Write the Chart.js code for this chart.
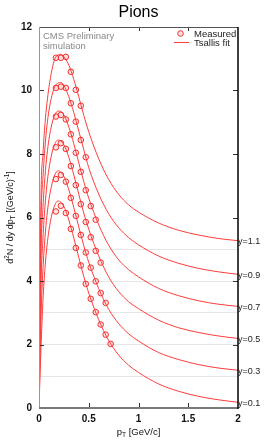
<!DOCTYPE html>
<html>
<head>
<meta charset="utf-8">
<script src="https://cdn.jsdelivr.net/npm/chart.js@4.4.1/dist/chart.umd.min.js"></script>
<style>
  html, body { margin:0; padding:0; background:#fff; }
  #wrap { width:266px; height:446px; }
</style>
</head>
<body>
<div id="wrap"><canvas id="c" width="266" height="446"></canvas></div>
<script>
const FONT = "'Liberation Sans', Arial, sans-serif";
const ROJO = '#ff3b3b';

// curvas del ajuste Tsallis, desplazadas por rapidez
const PT_FIT = [0, 0.02, 0.04, 0.06, 0.08, 0.10, 0.13, 0.16, 0.19, 0.22, 0.26, 0.30, 0.35, 0.40, 0.45, 0.50, 0.60, 0.70, 0.80, 0.90, 1.00, 1.20, 1.40, 1.60, 1.80, 2.00];
const FIT_Y01 = [0, 1.9, 3.4, 4.4, 5.1, 5.6, 6.1, 6.4, 6.52, 6.48, 6.28, 5.92, 5.35, 4.74, 4.14, 3.62, 2.78, 2.13, 1.67, 1.35, 1.12, 0.76, 0.53, 0.37, 0.26, 0.18];
const FIT_Y03 = [0, 2.88, 4.37, 5.37, 6.06, 6.56, 7.05, 7.35, 7.47, 7.43, 7.23, 6.87, 6.31, 5.70, 5.11, 4.59, 3.76, 3.11, 2.66, 2.34, 2.11, 1.75, 1.53, 1.37, 1.26, 1.19];
const FIT_Y05 = [0, 3.88, 5.36, 6.35, 7.04, 7.53, 8.03, 8.32, 8.44, 8.41, 8.23, 7.89, 7.34, 6.73, 6.14, 5.63, 4.79, 4.13, 3.67, 3.35, 3.13, 2.77, 2.53, 2.38, 2.27, 2.19];
const FIT_Y07 = [0, 4.85, 6.32, 7.29, 7.97, 8.46, 8.95, 9.24, 9.35, 9.34, 9.17, 8.85, 8.32, 7.72, 7.13, 6.61, 5.77, 5.13, 4.67, 4.36, 4.13, 3.77, 3.54, 3.38, 3.27, 3.20];
const FIT_Y09 = [0, 5.82, 7.26, 8.22, 8.89, 9.37, 9.84, 10.13, 10.23, 10.25, 10.10, 9.80, 9.30, 8.72, 8.14, 7.57, 6.74, 6.12, 5.68, 5.37, 5.14, 4.79, 4.56, 4.40, 4.29, 4.21];
const FIT_Y11 = [0, 6.6, 8.0, 8.95, 9.6, 10.1, 10.65, 11.0, 11.12, 11.14, 11.02, 10.80, 10.35, 9.80, 9.22, 8.70, 7.85, 7.20, 6.73, 6.40, 6.17, 5.83, 5.60, 5.45, 5.34, 5.27];

// puntos medidos (a mayor rapidez, menos puntos en pT)
const PT_MED = [0.17, 0.22, 0.27, 0.32, 0.37, 0.42, 0.47, 0.52, 0.57, 0.62, 0.67, 0.72];
const MED_Y01 = [6.19, 6.37, 6.14, 5.64, 5.04, 4.49, 3.91, 3.44, 3.02, 2.63, 2.31, 2.02];
const MED_Y03 = [7.21, 7.34, 7.13, 6.62, 6.05, 5.45, 4.90, 4.42, 3.99, 3.62, 3.31];
const MED_Y05 = [8.21, 8.34, 8.16, 7.62, 7.02, 6.42, 5.86, 5.38, 4.95, 4.58];
const MED_Y07 = [9.18, 9.23, 9.09, 8.62, 8.04, 7.44, 6.86, 6.36, 5.93];
const MED_Y09 = [10.08, 10.12, 10.08, 9.60, 9.02, 8.44, 7.90];
const MED_Y11 = [11.03, 11.03, 11.06, 10.59, 10.02, 9.52];

const RAPIDEZ = ['y=0.1', 'y=0.3', 'y=0.5', 'y=0.7', 'y=0.9', 'y=1.1'];
const FITS = [FIT_Y01, FIT_Y03, FIT_Y05, FIT_Y07, FIT_Y09, FIT_Y11];
const MEDS = [MED_Y01, MED_Y03, MED_Y05, MED_Y07, MED_Y09, MED_Y11];

const datasets = [];
FITS.forEach((arr, i) => {
  datasets.push({
    label: RAPIDEZ[i], tipo: 'fit',
    data: PT_FIT.map((x, j) => ({x: x, y: arr[j]})),
    showLine: true, borderColor: ROJO, borderWidth: 1, pointRadius: 0,
    cubicInterpolationMode: 'monotone', fill: false, order: 2
  });
});
MEDS.forEach((arr, i) => {
  datasets.push({
    label: 'med ' + RAPIDEZ[i], tipo: 'med',
    data: arr.map((v, j) => ({x: PT_MED[j], y: v})),
    showLine: false, pointRadius: 2.8, pointBorderWidth: 1,
    pointBorderColor: '#f03030', pointBackgroundColor: 'rgba(255,80,80,0.18)', order: 1
  });
});

// texto con sub/superindices: [texto, 0 normal | 1 sup | -1 sub]
function richText(ctx, parts, size, align) {
  let w = 0;
  parts.forEach(p => { ctx.font = (p[1] ? size * 0.7 : size) + 'px ' + FONT; w += ctx.measureText(p[0]).width; });
  let x = align === 'center' ? -w / 2 : 0;
  parts.forEach(p => {
    const s = p[1] ? size * 0.7 : size;
    ctx.font = s + 'px ' + FONT;
    const dy = p[1] === 1 ? -size * 0.38 : (p[1] === -1 ? size * 0.3 : 0);
    ctx.fillText(p[0], x, dy);
    x += ctx.measureText(p[0]).width;
  });
}

const decoPlugin = {
  id: 'deco',
  afterDatasetsDraw(chart) {
    const {ctx, chartArea: a, scales} = chart;
    ctx.save();
    // marcas interiores
    ctx.strokeStyle = '#333'; ctx.lineWidth = 1;
    [2, 4, 6, 8, 10].forEach(v => {
      const y = Math.round(scales.y.getPixelForValue(v)) + 0.5;
      ctx.beginPath(); ctx.moveTo(a.left, y); ctx.lineTo(a.left + 5, y); ctx.stroke();
      ctx.beginPath(); ctx.moveTo(a.right - 5, y); ctx.lineTo(a.right, y); ctx.stroke();
    });
    [0.5, 1, 1.5].forEach(v => {
      const x = Math.round(scales.x.getPixelForValue(v)) + 0.5;
      ctx.beginPath(); ctx.moveTo(x, a.bottom); ctx.lineTo(x, a.bottom - 5); ctx.stroke();
      ctx.beginPath(); ctx.moveTo(x, a.top); ctx.lineTo(x, a.top + 4); ctx.stroke();
    });
    // marco
    ctx.lineWidth = 1;
    ctx.strokeStyle = '#555';
    ctx.beginPath(); ctx.moveTo(a.left, a.top + 0.5); ctx.lineTo(a.right, a.top + 0.5); ctx.stroke();
    ctx.strokeStyle = '#999';
    ctx.beginPath(); ctx.moveTo(a.left + 0.5, a.top); ctx.lineTo(a.left + 0.5, a.bottom); ctx.stroke();
    ctx.strokeStyle = '#7a7a7a'; ctx.lineWidth = 2;
    ctx.beginPath(); ctx.moveTo(a.left, a.bottom); ctx.lineTo(a.right, a.bottom); ctx.stroke();
    ctx.strokeStyle = '#000'; ctx.lineWidth = 1.5;
    ctx.beginPath(); ctx.moveTo(a.right, a.top); ctx.lineTo(a.right, a.bottom + 1); ctx.stroke();

    // etiquetas de rapidez al final de cada curva
    ctx.fillStyle = '#222'; ctx.font = '9px ' + FONT;
    ctx.textAlign = 'left'; ctx.textBaseline = 'middle';
    chart.data.datasets.forEach((ds, i) => {
      if (ds.tipo !== 'fit') return;
      const pts = chart.getDatasetMeta(i).data;
      const last = pts[pts.length - 1];
      ctx.fillText(ds.label, a.right, last.y + 1);
    });

    // titulo
    ctx.fillStyle = '#000'; ctx.textAlign = 'center';
    ctx.font = '16px ' + FONT;
    ctx.fillText('Pions', (a.left + a.right) / 2, 13);

    // texto CMS
    ctx.fillStyle = '#8a8a8a'; ctx.textAlign = 'left'; ctx.font = '9.5px ' + FONT;
    ctx.fillText('CMS Preliminary', a.left + 4, 36);
    ctx.fillText('simulation', a.left + 4, 46);

    // leyenda
    ctx.strokeStyle = '#f03030'; ctx.lineWidth = 1;
    ctx.fillStyle = 'rgba(255,80,80,0.18)';
    ctx.beginPath(); ctx.arc(180.5, 33.5, 2.8, 0, Math.PI * 2); ctx.fill(); ctx.stroke();
    ctx.strokeStyle = ROJO;
    ctx.beginPath(); ctx.moveTo(174, 42.5); ctx.lineTo(189, 42.5); ctx.stroke();
    ctx.fillStyle = '#222'; ctx.font = '9.5px ' + FONT;
    ctx.fillText('Measured', 194, 34);
    ctx.fillText('Tsallis fit', 194, 43);

    // titulos de ejes
    ctx.fillStyle = '#111'; ctx.textBaseline = 'middle';
    ctx.save();
    ctx.translate((a.left + a.right) / 2, 432);
    richText(ctx, [['p', 0], ['T', -1], [' [GeV/c]', 0]], 9.5, 'center');
    ctx.restore();
    ctx.save();
    ctx.translate(11, (a.top + a.bottom) / 2);
    ctx.rotate(-Math.PI / 2);
    richText(ctx, [['d', 0], ['2', 1], ['N / dy dp', 0], ['T', -1], [' [(GeV/c)', 0], ['-1', 1], [']', 0]], 9, 'center');
    ctx.restore();
    ctx.restore();
  }
};

new Chart(document.getElementById('c'), {
  type: 'scatter',
  data: { datasets: datasets },
  options: {
    responsive: false, animation: false,
    layout: { padding: { top: 27, right: 28, left: 0, bottom: 0 } },
    plugins: { legend: { display: false }, tooltip: { enabled: false }, title: { display: false } },
    scales: {
      x: {
        type: 'linear', min: 0, max: 2,
        border: { display: false },
        grid: { display: false, drawTicks: false },
        ticks: { stepSize: 0.5, padding: 5, color: '#111', font: { family: FONT, size: 10, weight: 'bold' },
                 callback: v => String(v) },
        afterFit: s => { s.height = 38; }
      },
      y: {
        min: 0, max: 12,
        border: { display: false },
        grid: { drawTicks: false, lineWidth: 1,
                color: c => (c.tick && c.tick.value >= 1 && c.tick.value <= 5) ? '#e6e6e6' : 'rgba(0,0,0,0)' },
        ticks: { stepSize: 1, autoSkip: false, padding: 7, color: '#111',
                 font: { family: FONT, size: 10, weight: 'bold' },
                 callback: v => (v % 2 === 0 ? String(v) : '') },
        afterFit: s => { s.width = 39; }
      }
    }
  },
  plugins: [decoPlugin]
});
</script>
</body>
</html>
